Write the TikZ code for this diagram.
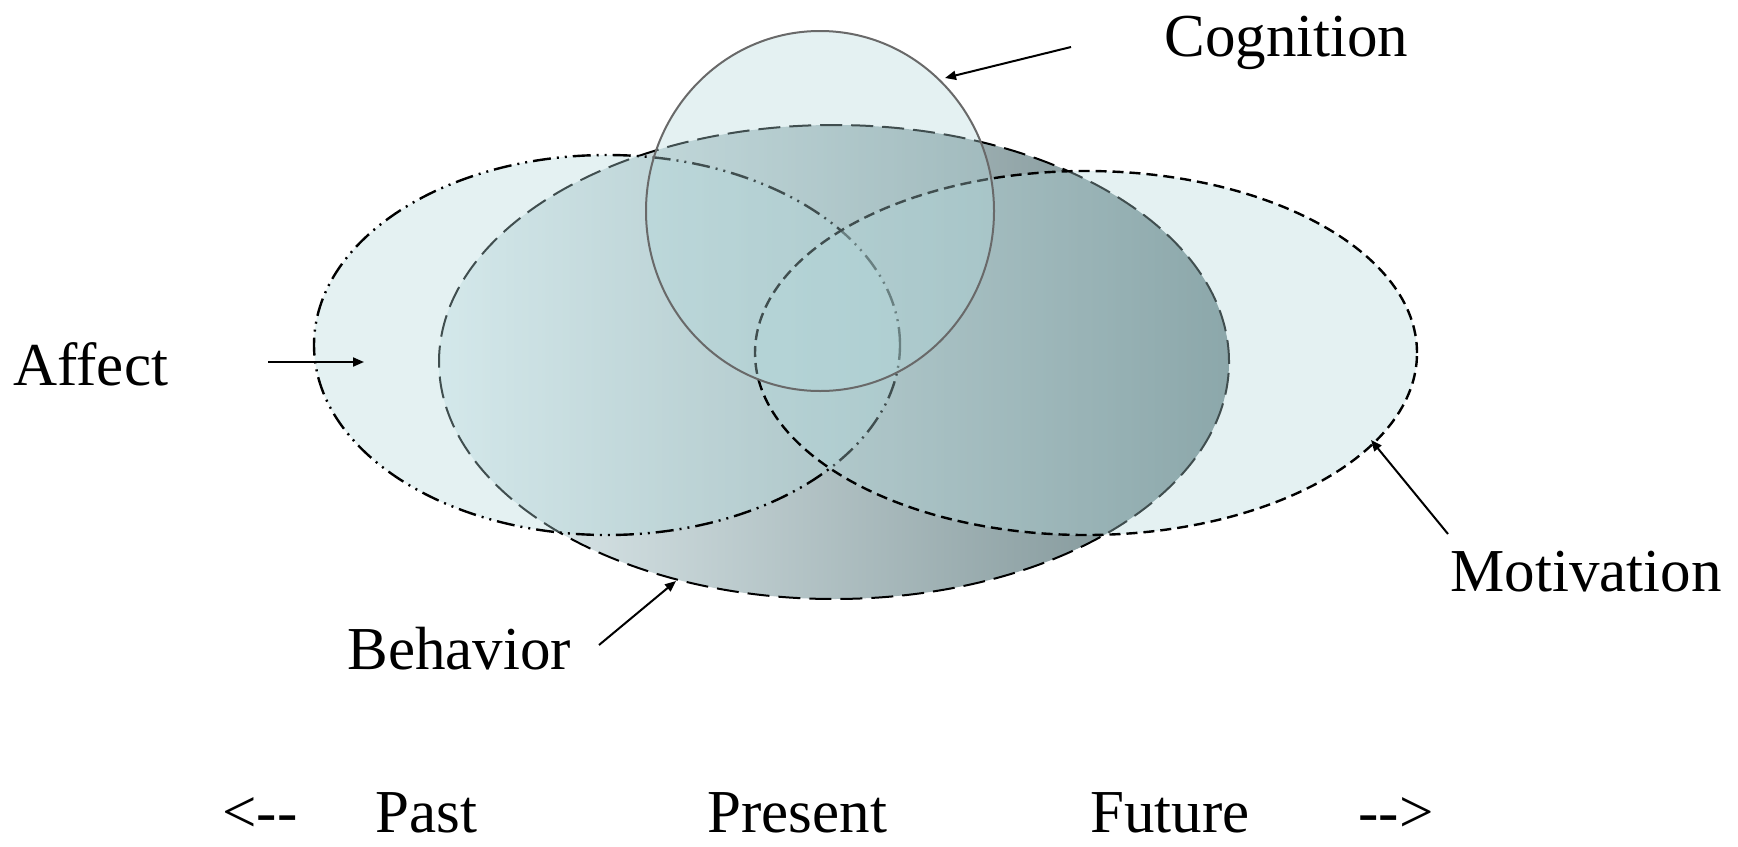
\documentclass[tikz,border=0pt]{standalone}
\usepackage{fontspec}
\setmainfont{Liberation Serif}
\newfontfamily\timesf{Liberation Serif}
\usetikzlibrary{shapes.geometric,arrows.meta}
\definecolor{lightfill}{RGB}{180,217,220}
\definecolor{behleft}{RGB}{230,241,243}
\definecolor{behright}{RGB}{118,140,143}
\definecolor{cogline}{RGB}{105,105,105}
\tikzset{
  blob/.style={ellipse, inner sep=0pt, outer sep=0pt},
  lightblob/.style={blob, fill=lightfill, fill opacity=0.36, draw opacity=1},
  lbl/.style={anchor=base west, inner sep=0pt, font=\timesf\fontsize{30.5pt}{36pt}\selectfont},
  pointer/.style={line width=1pt, -{Triangle[length=5.5pt,width=4.5pt]}}
}
\begin{document}
\begin{tikzpicture}[x=0.5pt,y=-0.5pt]
\useasboundingbox (0,0) rectangle (1738,846);
% Behavior (gradient, long dashes)
\node[blob, minimum width=395pt, minimum height=237pt, left color=behleft, right color=behright,
      draw=black, line width=1pt, dash pattern=on 11pt off 4.5pt] (behavior) at (834,362) {};
% Affect (dash dot dot)
\node[lightblob, minimum width=293pt, minimum height=190pt, draw=black, line width=1.2pt,
      dash pattern=on 9pt off 3pt on 1pt off 3pt on 1pt off 3pt] (affect) at (607,345) {};
% Motivation (short dashes)
\node[lightblob, minimum width=331pt, minimum height=182pt, draw=black, line width=1.2pt,
      dash pattern=on 5.5pt off 3pt] (motivation) at (1086,353) {};
% Cognition (solid grey)
\node[lightblob, minimum width=174pt, minimum height=180pt, draw=cogline, line width=1pt] (cognition) at (820,211) {};

% labels
\node[lbl] (tcog) at (1164,56) {Cognition};
\node[lbl] (taff) at (13,385) {Affect};
\node[lbl] (tbeh) at (347,669) {Behavior};
\node[lbl] (tmot) at (1450,591) {Motivation};

\node[lbl] (tleft) at (222,832) {{<}-{}-};
\node[lbl] (tpast) at (375,832) {Past};
\node[lbl] (tpres) at (707,832) {Present};
\node[lbl] (tfut) at (1090,832) {Future};
\node[lbl] (tright) at (1358,832) {-{}-{>}};

% arrows
\coordinate (cogs) at (1071,47);   \coordinate (coge) at (945,78);
\coordinate (affs) at (268,362);   \coordinate (affe) at (364,362);
\coordinate (behs) at (599,645);   \coordinate (behe) at (676,581);
\coordinate (mots) at (1448,534);  \coordinate (mote) at (1371,440);
\draw[pointer] (cogs) -- (coge);
\draw[pointer] (affs) -- (affe);
\draw[pointer] (behs) -- (behe);
\draw[pointer] (mots) -- (mote);
\end{tikzpicture}
\end{document}
